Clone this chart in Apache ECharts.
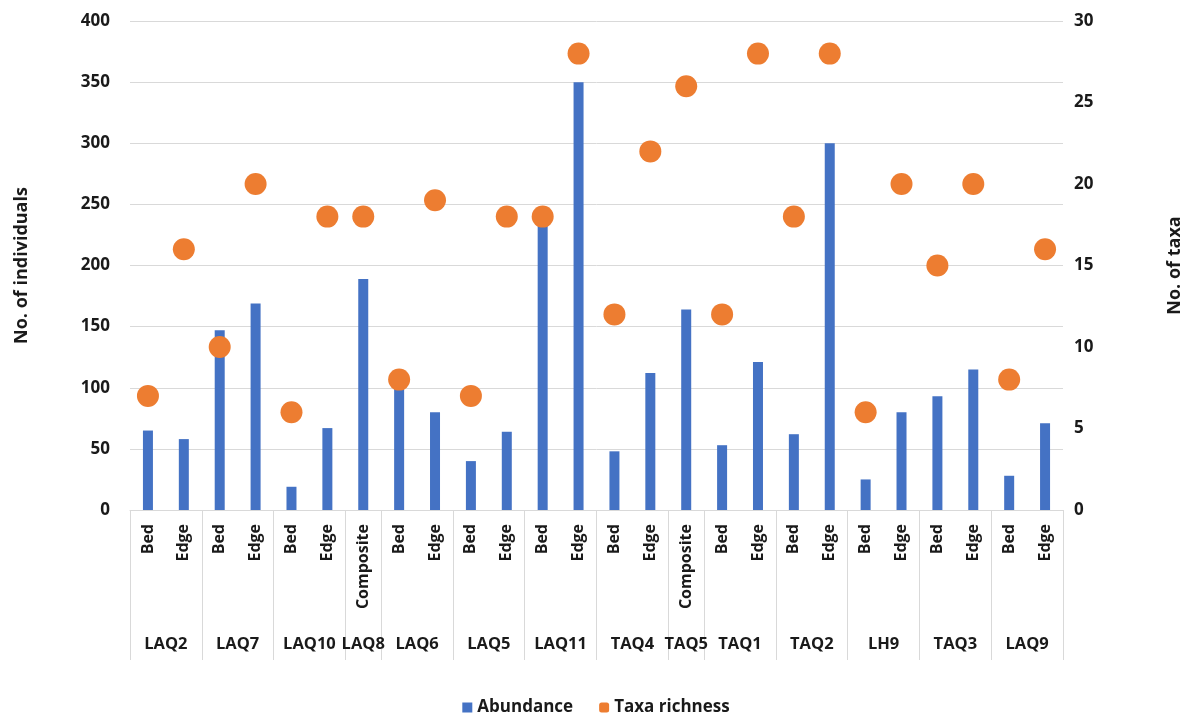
<!DOCTYPE html>
<html>
<head>
<meta charset="utf-8">
<script src="https://cdn.jsdelivr.net/npm/echarts@6/dist/echarts.min.js"></script>
<style>html,body{margin:0;padding:0;background:#fff}#c{width:1192px;height:715px}</style>
</head>
<body>
<div id="c"></div>
<script>
const groups = ['LAQ2','LAQ7','LAQ10','LAQ8','LAQ6','LAQ5','LAQ11','TAQ4','TAQ5','TAQ1','TAQ2','LH9','TAQ3','LAQ9'];
const groupItems = [
  ['Bed','Edge'],['Bed','Edge'],['Bed','Edge'],['Composite'],['Bed','Edge'],['Bed','Edge'],['Bed','Edge'],
  ['Bed','Edge'],['Composite'],['Bed','Edge'],['Bed','Edge'],['Bed','Edge'],['Bed','Edge'],['Bed','Edge']
];
const abundance = [65,58,147,169,19,67,189,100,80,40,64,235,350,48,112,164,53,121,62,300,25,80,93,115,28,71];
const taxaRichness = [7,16,10,20,6,18,18,8,19,7,18,18,28,12,22,26,12,28,18,28,6,20,15,20,8,16];
const leftTicks = {min:0,max:400,interval:50};
const rightTicks = {min:0,max:30,interval:5};

// build flat categories & group geometry
const categories = [];
const groupStarts = new Set();
const groupSlots = [];
let idx = 0;
groups.forEach((g,i)=>{
  groupStarts.add(idx);
  const n = groupItems[i].length;
  groupSlots.push({name:g, pos: 2*idx + n});
  groupItems[i].forEach(it=>categories.push(it));
  idx += n;
});
const halfSlots = new Array(2*categories.length+1).fill('');
groupSlots.forEach(s=>{ halfSlots[s.pos] = s.name; });

const FONT = '"Open Sans"';
const TXT = '#1a1a1a';
const chart = echarts.init(document.getElementById('c'));
chart.setOption({
  animation:false,
  textStyle:{fontFamily:FONT},
  grid:{left:130,right:125,top:21,bottom:205},
  legend:{
    bottom:-6,left:'center',
    itemWidth:10,itemHeight:10,itemGap:26,
    textStyle:{fontSize:17,fontWeight:'bold',color:TXT,fontFamily:FONT},
    data:[{name:'Abundance',icon:'rect'},{name:'Taxa richness',icon:'roundRect'}]
  },
  xAxis:[
    {
      type:'category',data:categories,boundaryGap:true,
      axisLine:{show:true,lineStyle:{color:'#d9d9d9'}},
      axisTick:{show:true,length:150,lineStyle:{color:'#d9d9d9'},
        interval:function(i){return groupStarts.has(i) || i>=categories.length;}},
      axisLabel:{interval:0,rotate:90,fontSize:16,fontWeight:'bold',color:TXT,margin:14,fontFamily:FONT},
      splitLine:{show:false}
    },
    {
      type:'category',data:halfSlots,boundaryGap:false,position:'bottom',offset:118,
      axisLine:{show:false},axisTick:{show:false},
      axisLabel:{interval:0,fontSize:16.5,fontWeight:'bold',color:TXT,margin:8,fontFamily:FONT},
      splitLine:{show:false}
    }
  ],
  yAxis:[
    {
      type:'value',min:leftTicks.min,max:leftTicks.max,interval:leftTicks.interval,
      name:'No. of individuals',nameLocation:'middle',nameGap:99,nameRotate:90,
      nameTextStyle:{fontSize:18,fontWeight:'bold',color:TXT,fontFamily:FONT},
      axisLine:{show:false},axisTick:{show:false},
      axisLabel:{fontSize:17,fontWeight:'bold',color:TXT,margin:20,fontFamily:FONT},
      splitLine:{lineStyle:{color:'#d9d9d9'}}
    },
    {
      type:'value',min:rightTicks.min,max:rightTicks.max,interval:rightTicks.interval,position:'right',
      name:'No. of taxa',nameLocation:'middle',nameGap:103,nameRotate:90,
      nameTextStyle:{fontSize:18,fontWeight:'bold',color:TXT,fontFamily:FONT},
      axisLine:{show:false},axisTick:{show:false},
      axisLabel:{fontSize:17,fontWeight:'bold',color:TXT,margin:11,fontFamily:FONT},
      splitLine:{show:false}
    }
  ],
  series:[
    {name:'Abundance',type:'bar',data:abundance,barWidth:10,itemStyle:{color:'#4472C4'},xAxisIndex:0,yAxisIndex:0},
    {name:'Taxa richness',type:'scatter',data:taxaRichness,symbolSize:22,itemStyle:{color:'#ED7D31',opacity:1},xAxisIndex:0,yAxisIndex:1,z:3}
  ]
});
</script>
</body>
</html>
